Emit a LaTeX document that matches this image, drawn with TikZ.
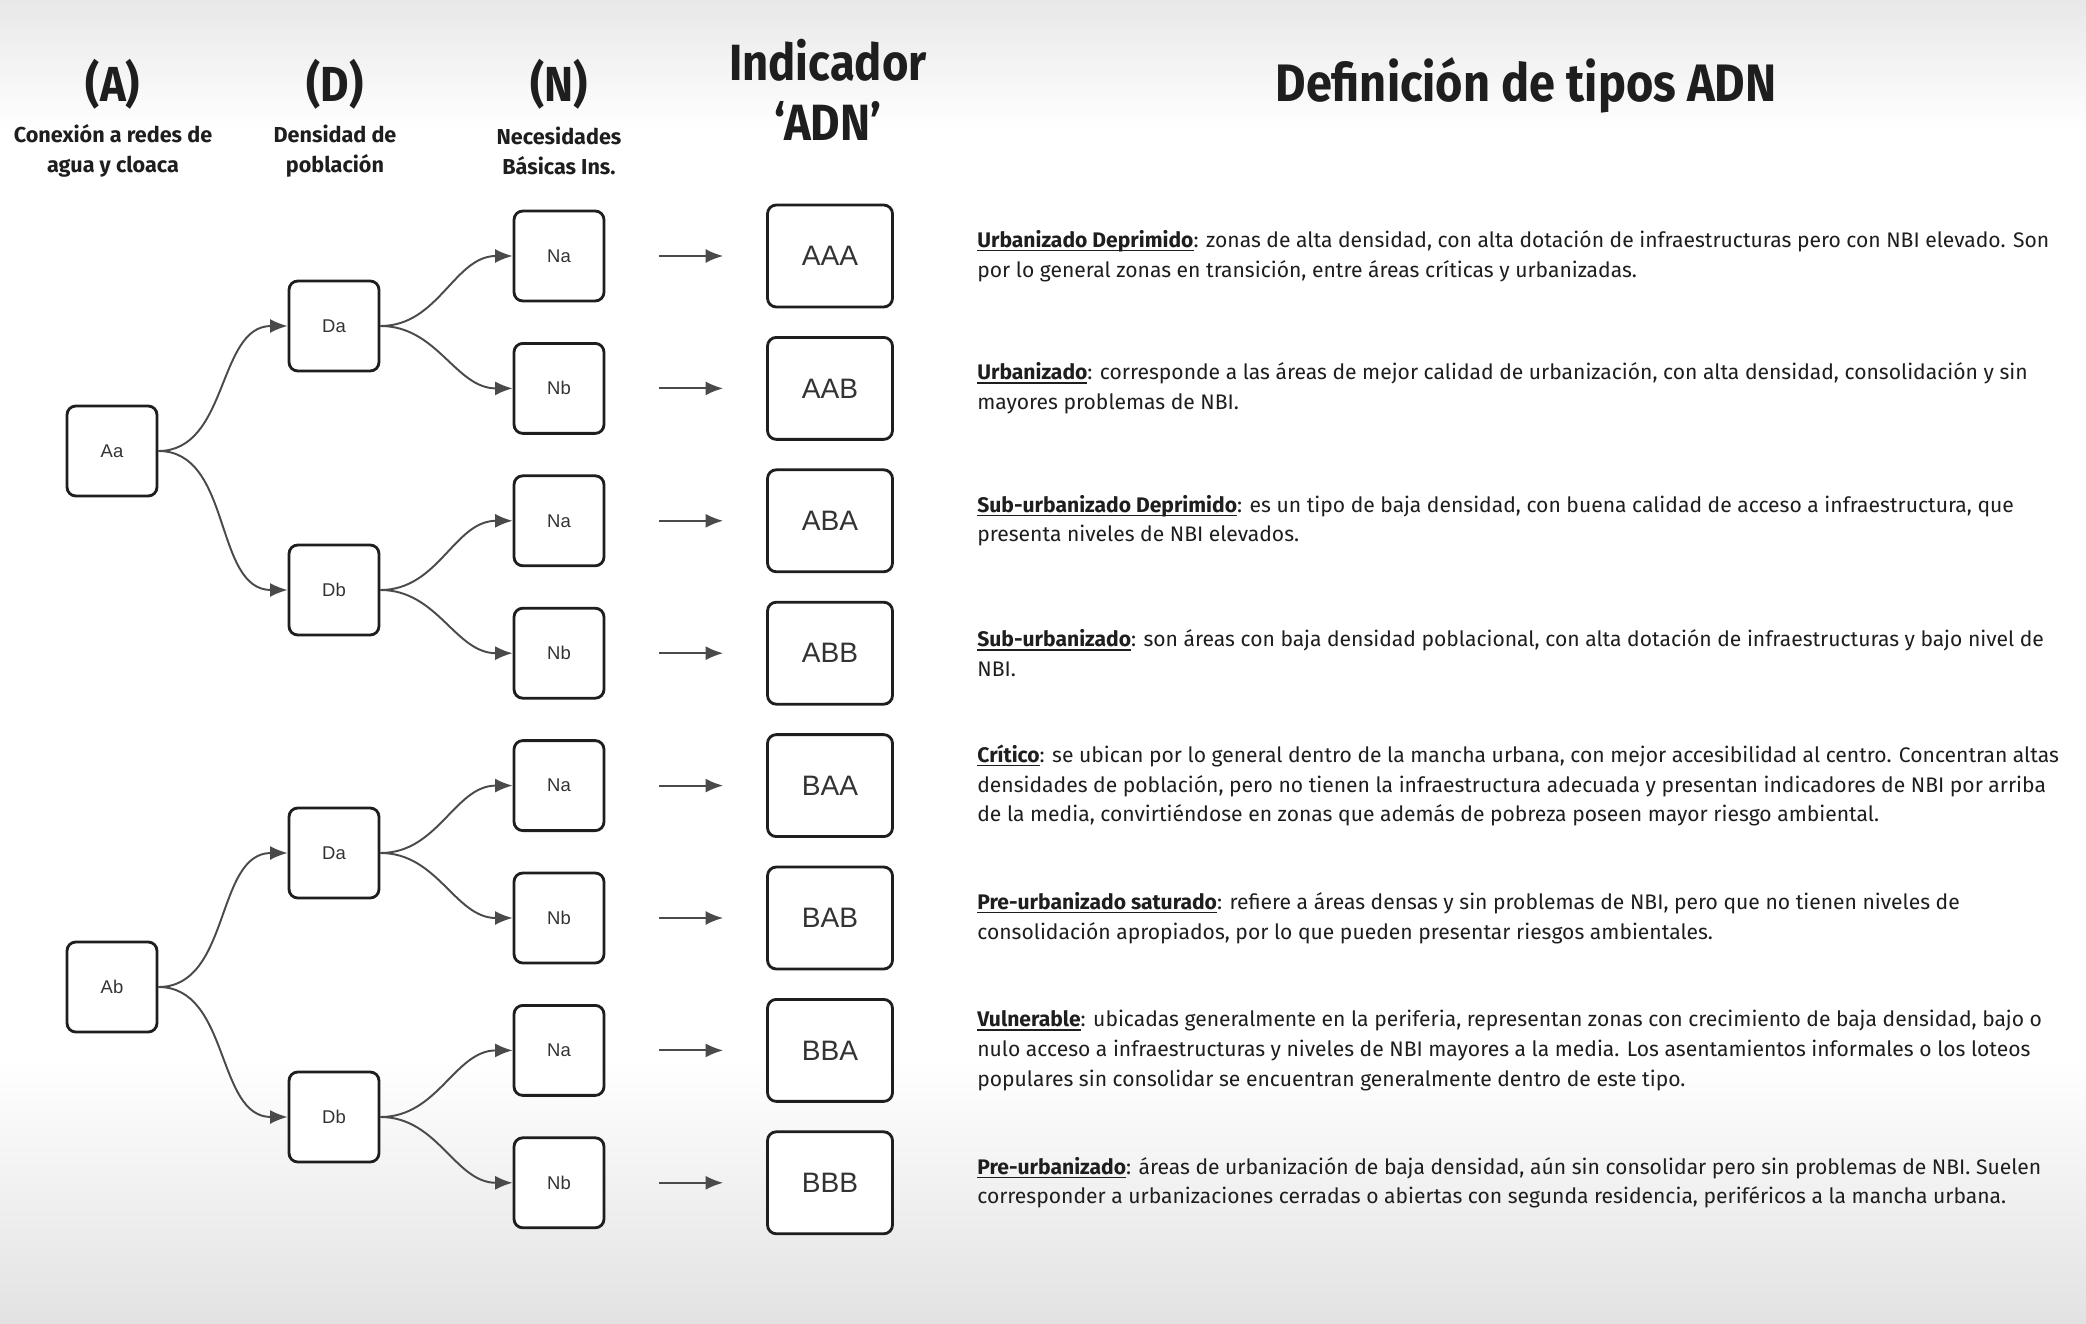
\documentclass[tikz,border=0pt]{standalone}
\usepackage{fontspec}
\setmainfont{Fira Sans}
\newfontfamily\headfont{Fira Sans}[FakeStretch=0.89]
\newfontfamily\boxfont{Liberation Sans}
\usetikzlibrary{arrows.meta,positioning}
\definecolor{cInk}{HTML}{1E1E1E}
\definecolor{cWire}{HTML}{4A4A4A}
\definecolor{cLabel}{HTML}{333333}
\definecolor{cShade}{HTML}{E2E2E2}
\tikzset{
  gbox/.style={draw=cInk,fill=white,rounded corners=5pt,line width=1.6pt,minimum width=1.8cm,minimum height=1.8cm,inner sep=0pt,font=\boxfont\fontsize{10.5}{12}\selectfont,text=cLabel},
  tbox/.style={gbox,minimum width=2.5cm,minimum height=2.04cm,font=\boxfont\fontsize{16}{18}\selectfont,text=cLabel},
  arr/.style={-{Latex[length=10pt,width=8pt]},line width=1.1pt,color=cWire},
  hd/.style={font=\headfont\bfseries\fontsize{28}{30}\selectfont,text=cInk},
  colsub/.style={font=\bfseries\fontsize{12.3}{17}\selectfont,align=center,text=cInk},
  defn/.style={anchor=west,align=left,font=\fontsize{12}{16.9}\selectfont,text=cInk,inner sep=0pt},
}
% underlined term, rule just under the baseline
\newlength\deftw
\newcommand{\deft}[1]{\settowidth{\deftw}{\textbf{#1}}\textbf{#1}\hspace{-\deftw}\rule[-2.2pt]{\deftw}{0.8pt}}

\begin{document}
\begin{tikzpicture}[x=0.02cm,y=-0.02cm]
  % screen background, grey at top and bottom
  \fill[white] (0,0) rectangle (2086,1324);
  \shade[top color=cShade!80!white,bottom color=white] (0,0) rectangle (2086,130);
  \shade[top color=white,bottom color=cShade] (0,1060) rectangle (2086,1324);
  \useasboundingbox (0,0) rectangle (2086,1324);

  % column heads
  \node[hd] (hA) at (113,84) {(A)};
  \node[colsub] (sA) at (113,151) {Conexión a redes de\\agua y cloaca};
  \node[hd] (hD) at (335,84) {(D)};
  \node[colsub] (sD) at (335,151) {Densidad de\\población};
  \node[hd] (hN) at (559,84) {(N)};
  \node[colsub] (sN) at (559,151) {Necesidades\\Básicas Ins.};
  \node[hd,align=center,font=\headfont\bfseries\fontsize{29}{34}\selectfont] (hI) at (828,90) {Indicador\\‘ADN’};
  \node[hd,font=\headfont\bfseries\fontsize{30}{34}\selectfont] (hT) at (1526,85) {Definición de tipos ADN};

  % tree
  \node[gbox] (a1) at (112,451) {Aa};
  \node[gbox] (a2) at (112,987) {Ab};
  \node[gbox] (d1) at (334,326) {Da};
  \node[gbox] (d2) at (334,590) {Db};
  \node[gbox] (d3) at (334,853) {Da};
  \node[gbox] (d4) at (334,1117) {Db};
  \foreach \i/\lab/\code in {1/Na/AAA,2/Nb/AAB,3/Na/ABA,4/Nb/ABB,5/Na/BAA,6/Nb/BAB,7/Na/BBA,8/Nb/BBB}{
    \node[gbox] (n\i) at (559,{256+132.4*(\i-1)}) {\lab};
    \node[tbox] (t\i) at (830,{256+132.4*(\i-1)}) {\code};
    \draw[arr,shorten <=1.08cm,shorten >=0.86cm] (n\i.east) -- (t\i.west);
  }
  \draw[arr] (a1.east) to[out=0,in=180] (d1.west);
  \draw[arr] (a1.east) to[out=0,in=180] (d2.west);
  \draw[arr] (a2.east) to[out=0,in=180] (d3.west);
  \draw[arr] (a2.east) to[out=0,in=180] (d4.west);
  \draw[arr] (d1.east) to[out=0,in=180] (n1.west);
  \draw[arr] (d1.east) to[out=0,in=180] (n2.west);
  \draw[arr] (d2.east) to[out=0,in=180] (n3.west);
  \draw[arr] (d2.east) to[out=0,in=180] (n4.west);
  \draw[arr] (d3.east) to[out=0,in=180] (n5.west);
  \draw[arr] (d3.east) to[out=0,in=180] (n6.west);
  \draw[arr] (d4.east) to[out=0,in=180] (n7.west);
  \draw[arr] (d4.east) to[out=0,in=180] (n8.west);

  % definitions
  \coordinate (dx) at (977,0);
  \node[defn] (def1) at (dx |- t1) {\deft{Urbanizado Deprimido}: zonas de alta densidad, con alta dotación de infraestructuras pero con NBI elevado. Son\\por lo general zonas en transición, entre áreas críticas y urbanizadas.};
  \node[defn] (def2) at (dx |- t2) {\deft{Urbanizado}: corresponde a las áreas de mejor calidad de urbanización, con alta densidad, consolidación y sin\\mayores problemas de NBI.};
  \node[defn] (def3) at (dx |- t3) {\deft{Sub-urbanizado Deprimido}: es un tipo de baja densidad, con buena calidad de acceso a infraestructura, que\\presenta niveles de NBI elevados.};
  \node[defn] (def4) at (dx |- t4) {\deft{Sub-urbanizado}: son áreas con baja densidad poblacional, con alta dotación de infraestructuras y bajo nivel de\\NBI.};
  \node[defn] (def5) at (dx |- t5) {\deft{Crítico}: se ubican por lo general dentro de la mancha urbana, con mejor accesibilidad al centro. Concentran altas\\densidades de población, pero no tienen la infraestructura adecuada y presentan indicadores de NBI por arriba\\de la media, convirtiéndose en zonas que además de pobreza poseen mayor riesgo ambiental.};
  \node[defn] (def6) at (dx |- t6) {\deft{Pre-urbanizado saturado}: refiere a áreas densas y sin problemas de NBI, pero que no tienen niveles de\\consolidación apropiados, por lo que pueden presentar riesgos ambientales.};
  \node[defn] (def7) at (dx |- t7) {\deft{Vulnerable}: ubicadas generalmente en la periferia, representan zonas con crecimiento de baja densidad, bajo o\\nulo acceso a infraestructuras y niveles de NBI mayores a la media. Los asentamientos informales o los loteos\\populares sin consolidar se encuentran generalmente dentro de este tipo.};
  \node[defn] (def8) at (dx |- t8) {\deft{Pre-urbanizado}: áreas de urbanización de baja densidad, aún sin consolidar pero sin problemas de NBI. Suelen\\corresponder a urbanizaciones cerradas o abiertas con segunda residencia, periféricos a la mancha urbana.};
\end{tikzpicture}
\end{document}
